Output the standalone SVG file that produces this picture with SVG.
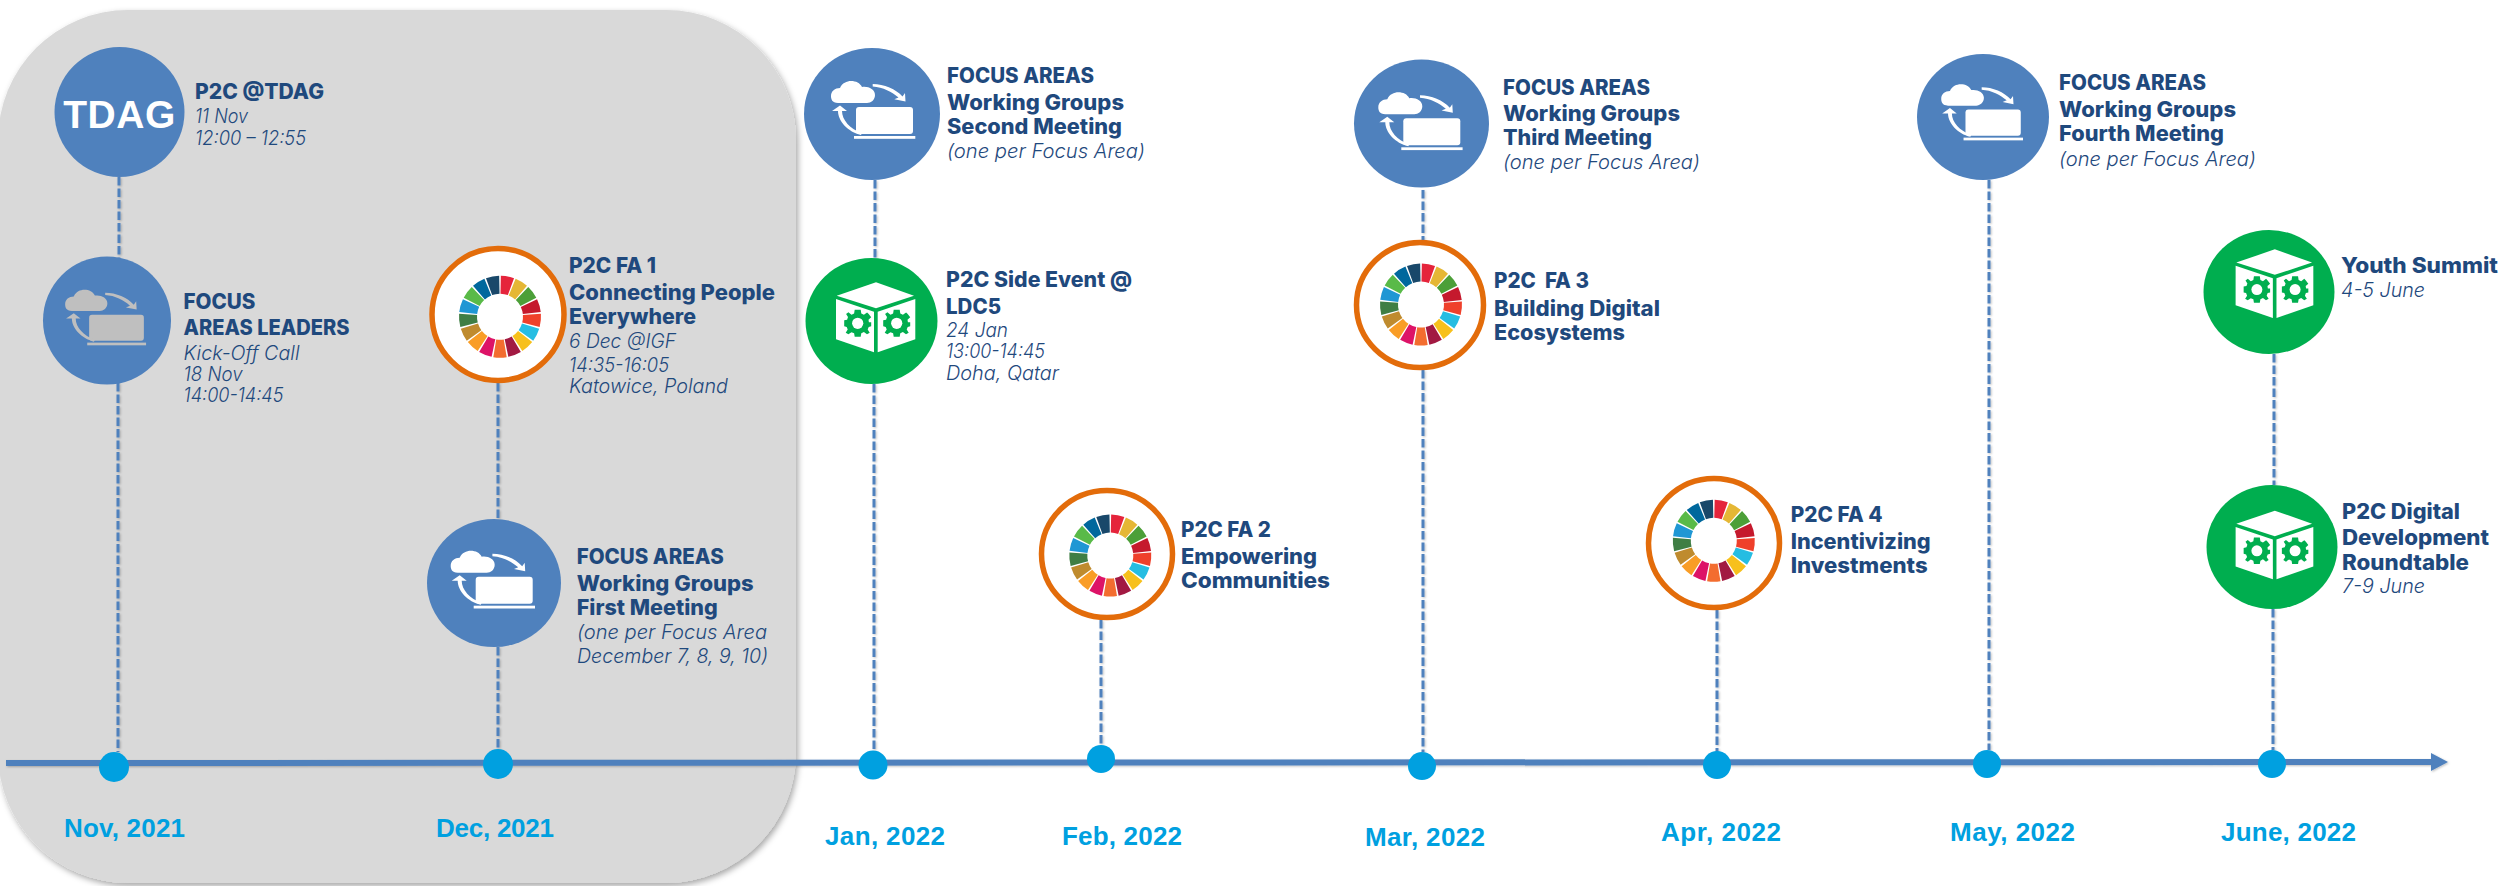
<svg xmlns="http://www.w3.org/2000/svg" width="2504" height="886" viewBox="0 0 2504 886">
<style>
.h{font-family:Inter,"Noto Sans","Liberation Sans",sans-serif;font-weight:800;font-size:21px;fill:#1F497D}
.s{font-family:Inter,"Noto Sans","Liberation Sans",sans-serif;font-weight:300;font-style:italic;font-size:19.5px;fill:#1F497D}
.m{font-family:"Liberation Sans",Arial,sans-serif;font-weight:700;font-size:26px;fill:#00A0E0}
.blue{fill:#4F81BD}.green{fill:#00AE4F}
.ring{fill:#FFFFFF;stroke:#E36C0A;stroke-width:5.5}
.dash{stroke:#4F81BD;stroke-width:3;stroke-dasharray:8.5 3;fill:none}
.dot{fill:#00A0E0}
.axis{stroke:#4F81BD;stroke-width:6;fill:none}
</style>
<defs>
<filter id="pshadow" x="-5%" y="-5%" width="110%" height="110%"><feDropShadow dx="2" dy="3" stdDeviation="3" flood-color="#000000" flood-opacity="0.35"/></filter>
<filter id="lshadow" x="-2%" y="-2%" width="104%" height="104%"><feDropShadow dx="1" dy="1" stdDeviation="1" flood-color="#000000" flood-opacity="0.25"/></filter>
<marker id="tip" markerUnits="userSpaceOnUse" markerWidth="18" markerHeight="18" refX="0" refY="9" orient="auto"><path d="M0 0L17 9L0 18Z" fill="#4F81BD"/></marker>
<path id="w" d="M.86-40.99A41 41 0 0 1 14.02-38.53L7.87-21.61A23 23 0 0 0 .48-22.99Z"/>
<g id="wheel">
<use href="#w" fill="#E5243B"/>
<use href="#w" fill="#E5B735" transform="rotate(21.18)"/>
<use href="#w" fill="#4C9F38" transform="rotate(42.35)"/>
<use href="#w" fill="#C5192D" transform="rotate(63.53)"/>
<use href="#w" fill="#EF402B" transform="rotate(84.71)"/>
<use href="#w" fill="#26BDE2" transform="rotate(105.88)"/>
<use href="#w" fill="#F7C01C" transform="rotate(127.06)"/>
<use href="#w" fill="#A21942" transform="rotate(148.24)"/>
<use href="#w" fill="#F36D2F" transform="rotate(169.41)"/>
<use href="#w" fill="#DD1367" transform="rotate(190.59)"/>
<use href="#w" fill="#F99D26" transform="rotate(211.76)"/>
<use href="#w" fill="#BF8B2E" transform="rotate(232.94)"/>
<use href="#w" fill="#3F7E44" transform="rotate(254.12)"/>
<use href="#w" fill="#1F97D4" transform="rotate(275.29)"/>
<use href="#w" fill="#59BA48" transform="rotate(296.47)"/>
<use href="#w" fill="#00689D" transform="rotate(317.65)"/>
<use href="#w" fill="#19486A" transform="rotate(338.82)"/>
</g>
<g id="cloudlaptop">
<path d="M-34 -11C-40 -11 -41 -15 -41 -18C-41 -23 -37 -26 -32 -26C-30 -31 -25 -33 -21 -33C-16 -33 -12 -31 -10 -27C-4 -28 3 -25 3 -19C3 -14 -1 -11 -5 -11Z"/>
<rect x="-16" y="-7" width="57" height="27" rx="3"/>
<rect x="-18" y="22" width="61.3" height="2.8"/>
<path d="M.7 -30C12 -30 24 -25 30.5 -17.5L33 -21L33.5 -12.5L22.3 -14.7L26.5 -16.5C20 -22 11 -27 .7 -27.5Z"/>
<path d="M-10 19C-22 15 -30 6 -30 -3L-25 -3L-32 -8.5L-40 -3L-34 -3C-34 7 -24 18 -11 21Z"/>
</g>
<g id="gear">
<path d="M-3 -13.5H3L3.6 -9.7L6.2 -8.6L9.4 -10.9L11 -9.3L13.5 -6L10.8 -3.5L11.2 -1H13.5V3L11 3.6L10 6.2L12 9.4L9.3 11L6.2 8.6L3.6 10L3 13.5H-3L-3.6 10L-6.2 8.9L-9.3 11L-12 9.4L-10 6.2L-11 3.6L-13.5 3V-3L-10.6 -3.6L-9.7 -6.2L-11.6 -9.3L-9.3 -11L-6.2 -8.6L-3.6 -9.7Z" class="green"/>
<circle r="5.6" fill="#FFFFFF"/>
</g>
<g id="cube">
<path d="M4.5 -38.7L42.5 -25.3L4.5 -12.7L-34.8 -25.3Z" fill="#FFFFFF"/>
<path d="M-35.5 -22L2.5 -9.3V31.3L-35.5 18.3Z" fill="#FFFFFF"/>
<path d="M6.2 -9.3L43.8 -22V18.3L6.2 31.3Z" fill="#FFFFFF"/>
<use href="#gear" x="-13.8" y="2.3"/>
<use href="#gear" x="25.2" y="2.3"/>
</g>
</defs>
<rect id="past-panel" x="-2" y="10" width="798" height="873" rx="130" ry="130" fill="#D9D9D9" filter="url(#pshadow)"/>
<g id="connectors" filter="url(#lshadow)">
<line class="axis" x1="6" y1="763" x2="2431" y2="762" marker-end="url(#tip)"/>
<line class="dash" x1="119" y1="177" x2="119" y2="258"/>
<line class="dash" x1="118" y1="383" x2="118" y2="752"/>
<line class="dash" x1="498" y1="383" x2="498" y2="520"/>
<line class="dash" x1="498" y1="647" x2="498" y2="750"/>
<line class="dash" x1="875" y1="180" x2="875" y2="258"/>
<line class="dash" x1="874" y1="384" x2="874" y2="752"/>
<line class="dash" x1="1101" y1="620" x2="1101" y2="745"/>
<line class="dash" x1="1423" y1="190" x2="1423" y2="240"/>
<line class="dash" x1="1423" y1="370" x2="1423" y2="752"/>
<line class="dash" x1="1717" y1="610" x2="1717" y2="752"/>
<line class="dash" x1="1989" y1="180" x2="1989" y2="750"/>
<line class="dash" x1="2274" y1="354" x2="2274" y2="485"/>
<line class="dash" x1="2273" y1="609" x2="2273" y2="750"/>
</g>
<g id="month-nov"><circle class="dot" cx="114" cy="767" r="15"/><text class="m" x="64" y="837" textLength="121">Nov, 2021</text></g>
<g id="month-dec"><circle class="dot" cx="498" cy="764" r="15"/><text class="m" x="436" y="837" textLength="118">Dec, 2021</text></g>
<g id="month-jan"><circle class="dot" cx="873" cy="765" r="14.5"/><text class="m" x="825" y="845" textLength="120">Jan, 2022</text></g>
<g id="month-feb"><circle class="dot" cx="1101" cy="759" r="14"/><text class="m" x="1062" y="845" textLength="120">Feb, 2022</text></g>
<g id="month-mar"><circle class="dot" cx="1422" cy="766" r="14"/><text class="m" x="1365" y="846" textLength="120">Mar, 2022</text></g>
<g id="month-apr"><circle class="dot" cx="1717" cy="765" r="14"/><text class="m" x="1661" y="841" textLength="120">Apr, 2022</text></g>
<g id="month-may"><circle class="dot" cx="1987" cy="764" r="14"/><text class="m" x="1950" y="841" textLength="125">May, 2022</text></g>
<g id="month-jun"><circle class="dot" cx="2272" cy="764" r="14"/><text class="m" x="2221" y="841" textLength="135">June, 2022</text></g>

<g id="node-tdag"><circle class="blue" cx="119.5" cy="112" r="65"/>
<text x="63.3" y="128.3" font-family="Liberation Sans, Arial, sans-serif" font-weight="700" font-size="39" fill="#FFFFFF" textLength="112">TDAG</text>
<text class="h" x="195" y="98.6" textLength="129" lengthAdjust="spacingAndGlyphs">P2C @TDAG</text>
<text class="s" x="195" y="122.7" textLength="53" lengthAdjust="spacingAndGlyphs">11 Nov</text>
<text class="s" x="195" y="144.7" textLength="111" lengthAdjust="spacingAndGlyphs">12:00 – 12:55</text></g>

<g id="node-leaders"><circle class="blue" cx="107" cy="320.5" r="64"/>
<use href="#cloudlaptop" fill="#BFBFBF" transform="translate(104.5 321.5) scale(.96)"/>
<text class="h" x="183.5" y="308.7" textLength="72" lengthAdjust="spacingAndGlyphs">FOCUS</text>
<text class="h" x="183.5" y="334.7" textLength="166" lengthAdjust="spacingAndGlyphs">AREAS LEADERS</text>
<text class="s" x="183.5" y="360" textLength="116" lengthAdjust="spacingAndGlyphs">Kick-Off Call</text>
<text class="s" x="183.5" y="381" textLength="59" lengthAdjust="spacingAndGlyphs">18 Nov</text>
<text class="s" x="183.5" y="401.7" textLength="100" lengthAdjust="spacingAndGlyphs">14:00-14:45</text></g>

<g id="node-fa1"><circle class="ring" cx="498" cy="314.5" r="66"/>
<use href="#wheel" transform="translate(500 316.7)"/>
<text class="h" x="569" y="272.7" textLength="87" lengthAdjust="spacingAndGlyphs">P2C FA 1</text>
<text class="h" x="569" y="300" textLength="206" lengthAdjust="spacingAndGlyphs">Connecting People</text>
<text class="h" x="569" y="323.7" textLength="127" lengthAdjust="spacingAndGlyphs">Everywhere</text>
<text class="s" x="569" y="347.7" textLength="107" lengthAdjust="spacingAndGlyphs">6 Dec @IGF</text>
<text class="s" x="569" y="371.7" textLength="100" lengthAdjust="spacingAndGlyphs">14:35-16:05</text>
<text class="s" x="569" y="393" textLength="159" lengthAdjust="spacingAndGlyphs">Katowice, Poland</text></g>

<g id="node-wg1"><ellipse class="blue" cx="494" cy="583" rx="67" ry="64"/>
<use href="#cloudlaptop" fill="#FFFFFF" transform="translate(491.7 583.7)"/>
<text class="h" x="576.7" y="563.7" textLength="147" lengthAdjust="spacingAndGlyphs">FOCUS AREAS</text>
<text class="h" x="576.7" y="590.7" textLength="177" lengthAdjust="spacingAndGlyphs">Working Groups</text>
<text class="h" x="576.7" y="615" textLength="141" lengthAdjust="spacingAndGlyphs">First Meeting</text>
<text class="s" x="577" y="639" textLength="190" lengthAdjust="spacingAndGlyphs">(one per Focus Area</text>
<text class="s" x="577" y="663" textLength="191" lengthAdjust="spacingAndGlyphs">December 7, 8, 9, 10)</text></g>

<g id="node-wg2"><ellipse class="blue" cx="872" cy="114" rx="68" ry="66"/>
<use href="#cloudlaptop" fill="#FFFFFF" transform="translate(872 114)"/>
<text class="h" x="947" y="82.7" textLength="147" lengthAdjust="spacingAndGlyphs">FOCUS AREAS</text>
<text class="h" x="947" y="110" textLength="177" lengthAdjust="spacingAndGlyphs">Working Groups</text>
<text class="h" x="947" y="133.7" textLength="175" lengthAdjust="spacingAndGlyphs">Second Meeting</text>
<text class="s" x="947" y="158" textLength="198" lengthAdjust="spacingAndGlyphs">(one per Focus Area)</text></g>

<g id="node-ldc5"><ellipse class="green" cx="871.5" cy="321" rx="66" ry="63"/>
<use href="#cube" transform="translate(871.5 321)"/>
<text class="h" x="946" y="286.7" textLength="186" lengthAdjust="spacingAndGlyphs">P2C Side Event @</text>
<text class="h" x="946" y="313.7" textLength="55" lengthAdjust="spacingAndGlyphs">LDC5</text>
<text class="s" x="946" y="337" textLength="62" lengthAdjust="spacingAndGlyphs">24 Jan</text>
<text class="s" x="946" y="358" textLength="99" lengthAdjust="spacingAndGlyphs">13:00-14:45</text>
<text class="s" x="946" y="380" textLength="113" lengthAdjust="spacingAndGlyphs">Doha, Qatar</text></g>

<g id="node-fa2"><ellipse class="ring" cx="1107" cy="554" rx="65.5" ry="63.5"/>
<use href="#wheel" transform="translate(1110.3 555.5)"/>
<text class="h" x="1181" y="536.7" textLength="90" lengthAdjust="spacingAndGlyphs">P2C FA 2</text>
<text class="h" x="1181" y="564" textLength="136" lengthAdjust="spacingAndGlyphs">Empowering</text>
<text class="h" x="1181" y="587.5" textLength="149" lengthAdjust="spacingAndGlyphs">Communities</text></g>

<g id="node-wg3"><ellipse class="blue" cx="1421.5" cy="123.5" rx="67.5" ry="64"/>
<use href="#cloudlaptop" fill="#FFFFFF" transform="translate(1419.3 125.3)"/>
<text class="h" x="1503" y="95" textLength="147" lengthAdjust="spacingAndGlyphs">FOCUS AREAS</text>
<text class="h" x="1503" y="120.7" textLength="177" lengthAdjust="spacingAndGlyphs">Working Groups</text>
<text class="h" x="1503" y="145" textLength="149" lengthAdjust="spacingAndGlyphs">Third Meeting</text>
<text class="s" x="1503" y="169" textLength="197" lengthAdjust="spacingAndGlyphs">(one per Focus Area)</text></g>

<g id="node-fa3"><ellipse class="ring" cx="1420" cy="305" rx="63.5" ry="62.5"/>
<use href="#wheel" transform="translate(1421 304.5)"/>
<text class="h" x="1494" y="288" textLength="95" lengthAdjust="spacingAndGlyphs" xml:space="preserve">P2C  FA 3</text>
<text class="h" x="1494" y="315.7" textLength="166" lengthAdjust="spacingAndGlyphs">Building Digital</text>
<text class="h" x="1494" y="340" textLength="131" lengthAdjust="spacingAndGlyphs">Ecosystems</text></g>

<g id="node-fa4"><ellipse class="ring" cx="1714" cy="543" rx="65.5" ry="64.5"/>
<use href="#wheel" transform="translate(1713.8 540.8)"/>
<text class="h" x="1790.7" y="522" textLength="92" lengthAdjust="spacingAndGlyphs">P2C FA 4</text>
<text class="h" x="1790.7" y="549" textLength="140" lengthAdjust="spacingAndGlyphs">Incentivizing</text>
<text class="h" x="1790.7" y="573" textLength="137" lengthAdjust="spacingAndGlyphs">Investments</text></g>

<g id="node-wg4"><ellipse class="blue" cx="1983" cy="117" rx="66" ry="63"/>
<use href="#cloudlaptop" fill="#FFFFFF" transform="translate(1981 116.3) scale(.97)"/>
<text class="h" x="2059" y="90" textLength="147" lengthAdjust="spacingAndGlyphs">FOCUS AREAS</text>
<text class="h" x="2059" y="117" textLength="177" lengthAdjust="spacingAndGlyphs">Working Groups</text>
<text class="h" x="2059" y="141" textLength="165" lengthAdjust="spacingAndGlyphs">Fourth Meeting</text>
<text class="s" x="2059" y="165.7" textLength="197" lengthAdjust="spacingAndGlyphs">(one per Focus Area)</text></g>

<g id="node-youth"><ellipse class="green" cx="2269" cy="292" rx="65.5" ry="62"/>
<use href="#cube" transform="translate(2270.4 287.3) scale(.98)"/>
<text class="h" x="2341" y="273" textLength="157" lengthAdjust="spacingAndGlyphs">Youth Summit</text>
<text class="s" x="2341" y="296.7" textLength="84" lengthAdjust="spacingAndGlyphs">4-5 June</text></g>

<g id="node-roundtable"><ellipse class="green" cx="2272" cy="547" rx="65.5" ry="62"/>
<use href="#cube" transform="translate(2270.4 548.6) scale(.98)"/>
<text class="h" x="2342" y="519" textLength="118" lengthAdjust="spacingAndGlyphs">P2C Digital</text>
<text class="h" x="2342" y="545" textLength="147" lengthAdjust="spacingAndGlyphs">Development</text>
<text class="h" x="2342" y="570" textLength="127" lengthAdjust="spacingAndGlyphs">Roundtable</text>
<text class="s" x="2342" y="593" textLength="83" lengthAdjust="spacingAndGlyphs">7-9 June</text></g>
</svg>
